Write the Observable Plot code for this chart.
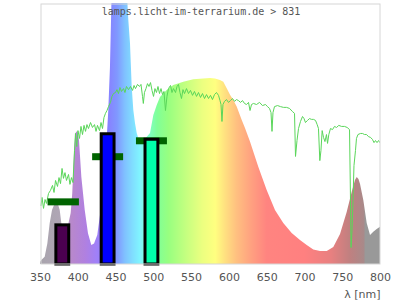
<!DOCTYPE html>
<html><head><meta charset="utf-8">
<script src="https://cdn.jsdelivr.net/npm/d3@7"></script>
<script src="https://cdn.jsdelivr.net/npm/@observablehq/plot@0.6"></script>
<style>body{margin:0;background:#fff} svg{display:block}</style>
</head><body><div id="chart"></div>
<script>
const title = "lamps.licht-im-terrarium.de > 831";
const xLabel = "λ [nm]";
const xTicks = [350, 400, 450, 500, 550, 600, 650, 700, 750, 800];

// lamp spectrum (relative, 100 = top of frame; blue peak is clipped)
const specNm = [350, 351.7, 356.2, 359.7, 362.8, 365.9, 369.5, 372.5, 376.1, 378.2, 381.8, 385.7, 390.6, 392.7, 395, 396.7, 399.4, 401.6, 404.7, 409.2, 413.5, 417.9, 421.5, 425.8, 429.4, 433.4, 437.4, 440.4, 442.6, 444.9, 446.6, 450.6, 455.9, 461.2, 464.8, 466.9, 469.1, 471.4, 473.5, 475.7, 478, 480.4, 483.7, 487, 491, 495.6, 500, 504.5, 508.8, 517.7, 526.4, 539.7, 552.9, 566.1, 575, 581.6, 588.2, 592.6, 597.1, 601.5, 605.8, 610.3, 617, 621.3, 627.9, 638.9, 650, 661, 672, 683.1, 694.1, 703, 711.7, 720.6, 729.5, 738.2, 747.1, 755.9, 762.5, 766.9, 769.2, 771.5, 773.5, 777.9, 782.4, 786.8, 791.1, 795.6, 800];
const specVal = [0.8, 1.5, 2.8, 7.9, 15.6, 20.7, 23.3, 24.1, 20.7, 15.7, 11.1, 13.0, 19.5, 27.2, 42.5, 50.1, 51.1, 47.5, 33.4, 20.7, 11.8, 7.3, 7.9, 11.1, 18.8, 30.3, 43.7, 59.0, 75.5, 105, 125, 140, 148, 135, 105, 93.5, 84.7, 67.8, 59.0, 54.0, 50.2, 47.9, 46.7, 47.1, 48.7, 50.2, 57.1, 60.9, 64.0, 66.7, 68.6, 69.8, 70.8, 71.1, 71.3, 71.1, 70.5, 69.8, 67.3, 64.8, 62.8, 60.3, 55.2, 52.1, 46.9, 37.3, 28.4, 20.7, 15.7, 11.9, 9.2, 7.3, 5.6, 5.0, 5.0, 6.5, 11.5, 19.9, 27.6, 32.2, 33.3, 32.6, 30.7, 24.5, 15.7, 11.1, 12.4, 13.4, 14.3];

// reference sunlight spectrum (green line)
const sunNm = [350.7, 352.0, 354.0, 356.0, 357.9, 360.6, 363.2, 365.9, 367.9, 369.9, 372.5, 374.5, 376.5, 378.5, 380.4, 382.4, 384.4, 387.1, 389.0, 391.0, 393.0, 395.0, 396.3, 398.0, 399.6, 401.6, 403.6, 405.6, 407.6, 409.6, 411.5, 413.5, 416.2, 418.8, 421.5, 423.5, 425.4, 428.1, 430.1, 432.1, 434.0, 436.0, 438.0, 440.0, 442.6, 444.6, 446.6, 449.3, 451.2, 453.2, 455.2, 457.2, 459.9, 461.8, 463.8, 466.5, 469.1, 471.8, 473.8, 475.7, 478.4, 481.0, 483.0, 485.0, 486.1, 487.6, 489.6, 491.6, 493.6, 495.6, 497.6, 499.6, 501.5, 503.5, 505.5, 507.5, 509.5, 511.5, 513.4, 515.4, 517.4, 519.4, 522.1, 524.0, 526.0, 528.7, 530.7, 532.6, 534.6, 536.6, 538.6, 540.6, 543.2, 545.9, 548.5, 551.2, 553.8, 556.5, 559.1, 561.8, 564.4, 567.1, 569.7, 572.4, 575.0, 577.6, 580.3, 582.9, 585.6, 587.6, 588.9, 590.2, 591.5, 593.5, 596.2, 598.8, 601.5, 604.1, 606.8, 609.4, 612.1, 614.7, 617.4, 620.0, 622.6, 625.3, 627.3, 629.3, 631.9, 635.9, 639.9, 643.8, 647.8, 650.4, 653.1, 655.1, 656.4, 657.7, 659.7, 663.7, 667.6, 671.6, 675.6, 679.6, 683.5, 686.2, 687.5, 689.5, 691.5, 694.1, 696.8, 698.8, 700.7, 703.4, 706.0, 708.7, 711.3, 714.0, 716.2, 717.9, 719.7, 721.2, 722.8, 724.6, 726.5, 728.5, 729.9, 731.6, 733.8, 736.5, 739.1, 741.8, 744.8, 748.4, 752.4, 755.9, 759.0, 760.3, 761.0, 762.3, 763.6, 764.9, 766.9, 768.2, 770.2, 773.5, 776.2, 778.8, 781.5, 784.1, 786.8, 789.4, 791.4, 793.4, 795.4, 797.4, 799.3];
const sunVal = [22.6, 25.7, 21.5, 24.9, 23.4, 27.2, 28.4, 30.3, 27.6, 32.2, 29.9, 33.3, 31.0, 36.8, 33.0, 35.2, 32.2, 34.5, 30.7, 33.3, 31.4, 43.7, 50.2, 45.2, 51.3, 48.3, 52.9, 49.8, 53.3, 51.0, 53.6, 52.1, 54.4, 52.5, 53.6, 51.0, 53.3, 51.3, 54.4, 52.1, 56.3, 57.9, 59.0, 60.5, 62.1, 64.4, 65.5, 65.9, 67.0, 65.5, 67.8, 66.3, 67.4, 65.9, 68.2, 67.0, 68.2, 66.7, 68.6, 67.4, 69.0, 68.2, 69.0, 64.4, 61.7, 65.9, 67.4, 69.3, 68.2, 69.7, 66.7, 64.4, 67.4, 65.9, 68.2, 65.5, 67.4, 65.1, 66.3, 59.0, 64.4, 67.4, 68.6, 65.9, 67.4, 65.9, 68.2, 69.0, 65.9, 63.6, 67.0, 65.5, 67.4, 65.5, 66.7, 64.8, 66.3, 64.4, 65.9, 64.0, 65.5, 63.6, 65.1, 63.6, 64.8, 63.2, 65.1, 65.9, 64.8, 62.8, 61.3, 54.8, 61.3, 62.5, 63.2, 62.1, 62.8, 63.6, 62.5, 63.2, 62.8, 62.1, 62.8, 61.7, 61.3, 62.1, 59.0, 61.3, 61.7, 61.3, 62.1, 60.9, 61.3, 60.5, 59.8, 58.2, 51.0, 58.2, 60.5, 60.9, 60.5, 60.2, 60.2, 59.8, 58.6, 57.9, 41.4, 47.5, 52.1, 54.8, 56.7, 55.9, 54.4, 55.2, 55.9, 55.6, 55.6, 55.2, 53.6, 52.1, 39.8, 43.7, 51.3, 48.7, 47.1, 49.8, 46.4, 49.8, 52.1, 51.7, 52.9, 52.5, 53.3, 52.9, 52.9, 52.5, 51.7, 24.5, 6.5, 13.0, 24.5, 37.9, 43.7, 48.3, 49.8, 50.2, 50.2, 49.8, 49.8, 49.0, 48.7, 47.9, 46.7, 47.5, 46.7, 47.5, 46.7];

// bars
const barStart = [371, 431, 489];
const barEnd = [388, 448, 506];
const barValue = [15.0, 49.9, 47.8];

// dark green markers
const markerStart = [360, 419, 477];
const markerEnd = [401.5, 460, 518];
const markerLevel = [24.0, 41.3, 47.4];

// styles
const barColors = ["#4b0050", "#0000ff", "#00ffaa"];
const spectrumStops = [
  [350, "#a8a4ac"], [378, "#b0a6b6"], [392, "#b888cc"], [410, "#b080e0"], [425, "#a080f8"],
  [440, "#8880ff"], [452, "#8098ff"], [462, "#80c0ff"], [472, "#80dcff"], [482, "#80f4ff"],
  [492, "#80ffd0"], [505, "#80ff98"], [520, "#98ff80"], [545, "#c8ff80"], [565, "#ecff80"],
  [582, "#ffff80"], [595, "#ffe080"], [610, "#ffc080"], [630, "#ffa080"], [650, "#ff8480"],
  [700, "#ff8080"], [735, "#e88080"], [760, "#c08080"], [779, "#a88a8a"], [780, "#999999"], [800, "#999999"]
];

const spectrum = specNm.map((nm, i) => ({nm, v: specVal[i]}));
const sun = sunNm.map((nm, i) => ({nm, v: sunVal[i]}));
const bars = barStart.map((x1, i) => ({x1, x2: barEnd[i], v: barValue[i], color: barColors[i]}));
const markers = markerStart.map((x1, i) => ({x1, x2: markerEnd[i], level: markerLevel[i]}));

const chart = Plot.plot({
  width: 400, height: 300,
  marginLeft: 40, marginRight: 20, marginTop: 3, marginBottom: 36,
  style: {fontFamily: "'DejaVu Sans', sans-serif", fontSize: "11px", color: "#555", background: "#fff"},
  x: {domain: [350, 800]},
  y: {domain: [0, 100], axis: null},
  color: {type: "identity"},
  marks: [
    Plot.areaY(spectrum, {x: "nm", y: "v", fill: "url(#spec-grad)", clip: true}),
    Plot.lineY(sun, {x: "nm", y: "v", stroke: "#5ad65a", strokeWidth: 1, clip: true}),
    Plot.ruleY(markers, {y: "level", x1: "x1", x2: "x2", stroke: "#006400", strokeWidth: 7}),
    Plot.rect(bars, {x1: "x1", x2: "x2", y1: 0, y2: "v", fill: "color", stroke: "#000", strokeWidth: 3}),
    Plot.frame({stroke: "#d6d6d6", inset: 0.5}),
    Plot.axisX({ticks: xTicks, tickSize: 0, tickPadding: 9, label: null, tickFormat: d => String(d)}),
    Plot.text([title], {frameAnchor: "top", dx: -9.5, dy: 11.3, lineAnchor: "bottom", fontFamily: "'DejaVu Sans Mono', monospace", fontSize: 10, fill: "#555"}),
    Plot.text([xLabel], {frameAnchor: "bottom-right", dy: 33.5, lineAnchor: "bottom", textAnchor: "end", fill: "#555"})
  ]
});

const xs = chart.scale("x");
const grad = d3.select(chart).insert("defs", ":first-child")
  .append("linearGradient")
  .attr("id", "spec-grad")
  .attr("gradientUnits", "userSpaceOnUse")
  .attr("x1", xs.apply(350)).attr("x2", xs.apply(800))
  .attr("y1", 0).attr("y2", 0);
grad.selectAll("stop").data(spectrumStops).join("stop")
  .attr("offset", d => (d[0] - 350) / 450)
  .attr("stop-color", d => d[1]);

document.getElementById("chart").appendChild(chart);
</script>
</body></html>
